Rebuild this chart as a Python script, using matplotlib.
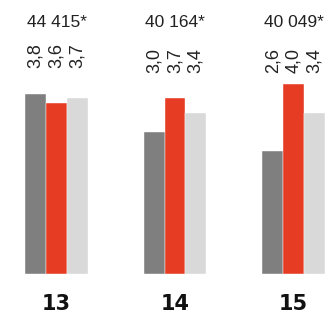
import numpy as np
from matplotlib import pyplot as plt

groups = ["13", "14", "15"]
totals = ["44 415*", "40 164*", "40 049*"]
series_a = [3.8, 3.0, 2.6]
series_b = [3.6, 3.7, 4.0]
series_c = [3.7, 3.4, 3.4]

colors = ["#7f7f7f", "#e63c24", "#d9d9d9"]
plt.rcParams['font.family'] = ['Liberation Sans', 'DejaVu Sans']

fig = plt.figure(figsize=(3.28, 3.21), dpi=100)
ax = fig.add_axes([0, 0, 1, 1])
ax.set_xlim(-0.477, 2.291)
ax.set_ylim(-0.99, 5.77)
ax.axis('off')

x = np.arange(len(groups))
w = 0.175
label_y = [4.34, 4.23, 4.23]
for i, (vals, c) in enumerate(zip([series_a, series_b, series_c], colors)):
    xs = x + (i - 1) * w
    ax.bar(xs, vals, width=w, color=c, edgecolor='white', linewidth=0.3)
    for j, v in enumerate(vals):
        ax.text(xs[j], label_y[j], f"{v:.1f}".replace('.', ','), rotation=90,
                ha='center', va='bottom', fontsize=13, color='#222222')

for j in range(len(groups)):
    ax.text(x[j], 5.305, totals[j], ha='center', va='center', fontsize=12.5, color='#222222')
    ax.text(x[j], -0.63, groups[j], ha='center', va='center', fontsize=15,
            fontweight='bold', color='#111111', family='DejaVu Sans')

fig.savefig("out.png", dpi=100)
